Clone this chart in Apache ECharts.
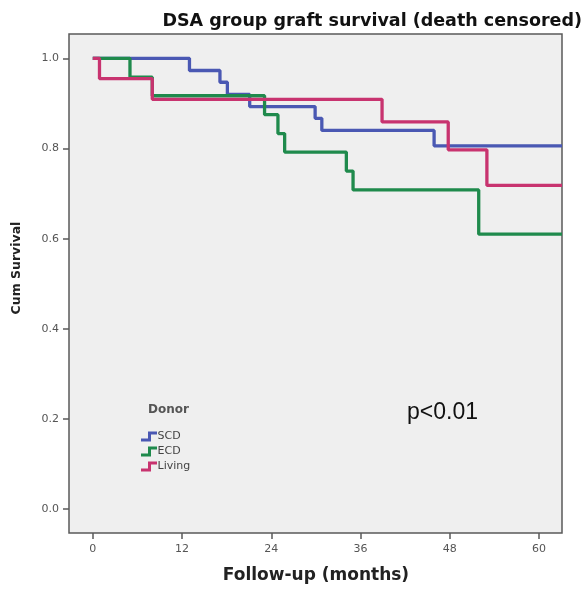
<!DOCTYPE html>
<html>
<head>
<meta charset="utf-8">
<script src="https://cdn.jsdelivr.net/npm/echarts@6/dist/echarts.min.js"></script>
<style>
html,body{margin:0;padding:0;background:#fff;}
#main{width:585px;height:591px;}
</style>
</head>
<body>
<div id="main"></div>
<script>
// Data
const seriesNames = ['SCD', 'ECD', 'Living'];
const scdTimes = [0, 13.0, 17.1, 18.1, 21.1, 29.9, 30.8, 45.9, 63.1];
const scdSurv  = [1.0, 0.973, 0.947, 0.920, 0.893, 0.867, 0.840, 0.806, 0.806];
const ecdTimes = [0, 5.0, 8.0, 23.1, 24.9, 25.8, 34.1, 35.0, 51.9, 63.1];
const ecdSurv  = [1.0, 0.958, 0.917, 0.875, 0.833, 0.792, 0.750, 0.708, 0.610, 0.610];
const livTimes = [0, 0.9, 8.0, 38.9, 47.8, 53.0, 63.1];
const livSurv  = [1.0, 0.955, 0.909, 0.859, 0.797, 0.718, 0.718];
const xTicks = [0, 12, 24, 36, 48, 60];
const yTicks = [0.0, 0.2, 0.4, 0.6, 0.8, 1.0];

const colors = ['#4a58b3', '#1f8a4c', '#c8336f'];
function pairs(t, s) { return t.map((v, i) => [v, s[i]]); }
const allData = [pairs(scdTimes, scdSurv), pairs(ecdTimes, ecdSurv), pairs(livTimes, livSurv)];

const stepIcon = 'path://M0,7 L7,7 L7,0 L16,0 L16,3 L10,3 L10,10 L0,10 Z';

const chart = echarts.init(document.getElementById('main'), null, {renderer: 'canvas'});
chart.setOption({
  animation: false,
  backgroundColor: '#ffffff',
  grid: {
    left: 69, right: 23, top: 34, bottom: 58,
    show: true, backgroundColor: '#efefef', borderColor: '#5a5a5a', borderWidth: 1.5
  },
  xAxis: {
    type: 'value', min: -3.2, max: 63.1,
    axisLine: {show: false, onZero: false},
    splitLine: {show: false},
    axisTick: {show: true, customValues: xTicks, length: 6, lineStyle: {color: '#5a5a5a', width: 1.5}},
    axisLabel: {customValues: xTicks, color: '#555', fontSize: 11, fontFamily: 'DejaVu Sans', margin: 11}
  },
  yAxis: {
    type: 'value', min: -0.053, max: 1.054,
    axisLine: {show: false, onZero: false},
    splitLine: {show: false},
    axisTick: {show: true, customValues: yTicks, length: 6, lineStyle: {color: '#5a5a5a', width: 1.5}},
    axisLabel: {customValues: yTicks, color: '#555', fontSize: 11, fontFamily: 'DejaVu Sans', margin: 10,
      formatter: v => v.toFixed(1)}
  },
  legend: {
    orient: 'vertical', left: 136, top: 426, itemGap: 4,
    itemWidth: 17, itemHeight: 10,
    textStyle: {color: '#444', fontSize: 11, fontFamily: 'DejaVu Sans', padding: [0,0,0,-5]},
    data: seriesNames.map(n => ({name: n, icon: stepIcon}))
  },
  series: seriesNames.map((n, i) => ({
    name: n, type: 'line', step: 'end', data: allData[i],
    showSymbol: false, symbol: 'none',
    color: colors[i],
    lineStyle: {color: colors[i], width: 3.3}
  })),
  graphic: [
    {type: 'text', style: {text: 'DSA group graft survival (death censored)', x: 582, y: 21,
      textAlign: 'right', textVerticalAlign: 'middle', font: 'bold 17.5px "DejaVu Sans"', fill: '#111'}},
    {type: 'text', style: {text: 'Follow-up (months)', x: 316, y: 576,
      textAlign: 'center', textVerticalAlign: 'middle', font: 'bold 17px "DejaVu Sans"', fill: '#222'}},
    {type: 'text', rotation: Math.PI / 2, x: 17, y: 268,
      style: {text: 'Cum Survival', x: 0, y: 0,
      textAlign: 'center', textVerticalAlign: 'middle', font: 'bold 12.5px "DejaVu Sans"', fill: '#222'}},
    {type: 'text', style: {text: 'Donor', x: 148, y: 410,
      textAlign: 'left', textVerticalAlign: 'middle', font: 'bold 12px "DejaVu Sans"', fill: '#555'}},
    {type: 'text', style: {text: 'p<0.01', x: 407, y: 413,
      textAlign: 'left', textVerticalAlign: 'middle', font: '23px "Liberation Sans"', fill: '#111'}}
  ]
});
</script>
</body>
</html>
